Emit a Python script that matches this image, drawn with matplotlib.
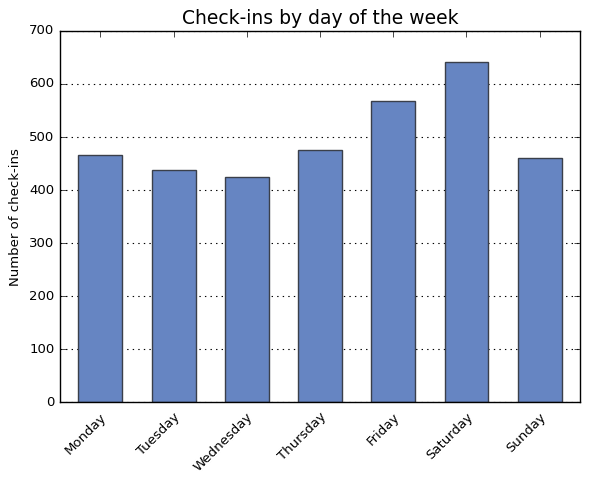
import matplotlib
matplotlib.use("Agg")
import matplotlib.pyplot as plt
import matplotlib.transforms as mtransforms
import numpy as np

plt.style.use("classic")

days = ["Monday", "Tuesday", "Wednesday", "Thursday", "Friday", "Saturday", "Sunday"]
checkins = [466, 437, 424, 475, 568, 641, 460]

fig, ax = plt.subplots(figsize=(5.9, 4.82), dpi=100)
fig.patch.set_facecolor("white")
x = np.arange(len(days))
ax.bar(x, checkins, width=0.6, align="center", color="#6685c2",
       edgecolor="#3a3f4a", linewidth=1.0, zorder=2)
ax.set_xlim(-0.55, 6.55)
ax.set_ylim(0, 700)
ax.set_xticks(x)
ax.set_xticklabels(days, rotation=45, ha="right", va="center",
                   rotation_mode="anchor", fontsize=9.5)
ax.tick_params(axis="x", pad=9)
offset = mtransforms.ScaledTranslation(4 / 100, 0, fig.dpi_scale_trans)
for lbl in ax.get_xticklabels():
    lbl.set_transform(lbl.get_transform() + offset)
ax.tick_params(axis="y", labelsize=9.5)
ax.yaxis.grid(True, linestyle=":", color="black", linewidth=0.8, zorder=0)
ax.set_axisbelow(True)
ax.set_ylabel("Number of check-ins", fontsize=9.5)
ax.set_title("Check-ins by day of the week", fontsize=13.5)
fig.subplots_adjust(left=0.102, right=0.983, top=0.936, bottom=0.165)
fig.savefig("out.png", dpi=100, facecolor="white")
